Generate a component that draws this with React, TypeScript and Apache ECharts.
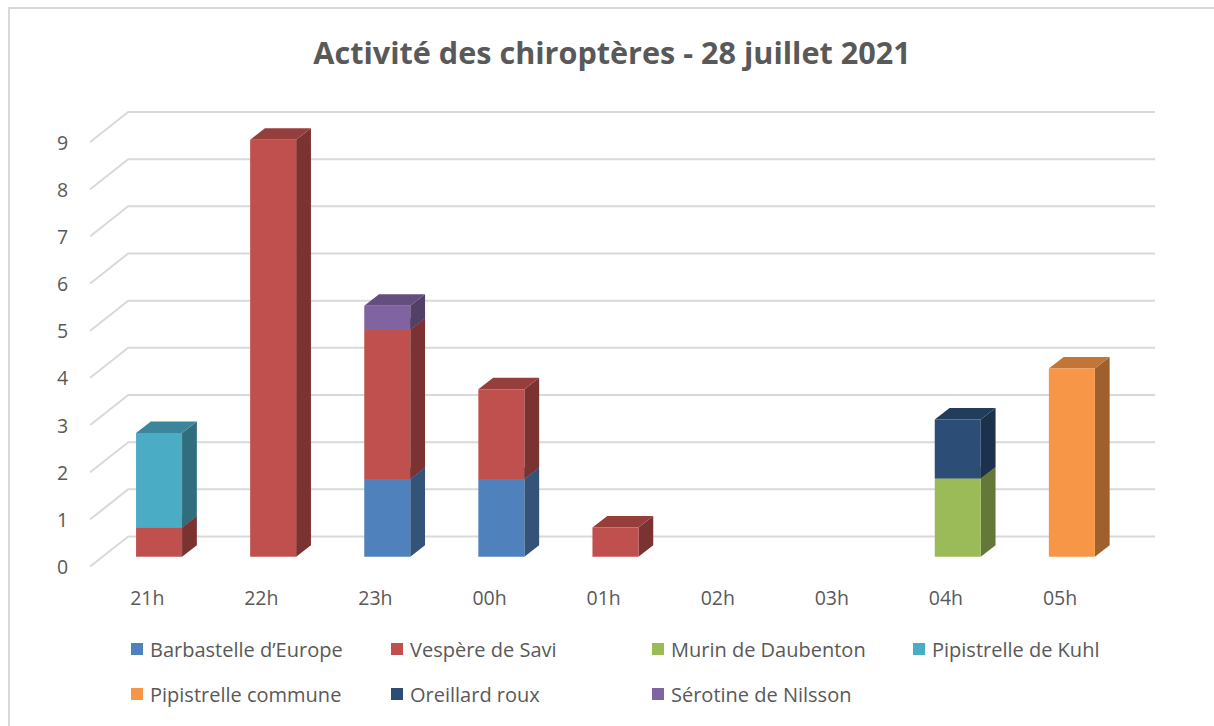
import React, { useEffect, useRef } from "react";
import * as echarts from "echarts";

const TITLE = "Activité des chiroptères - 28 juillet 2021";
const hours = ["21h", "22h", "23h", "00h", "01h", "02h", "03h", "04h", "05h"];
const yTicks = [0, 1, 2, 3, 4, 5, 6, 7, 8, 9];

const speciesNames = [
  "Barbastelle d’Europe",
  "Vespère de Savi",
  "Murin de Daubenton",
  "Pipistrelle de Kuhl",
  "Pipistrelle commune",
  "Oreillard roux",
  "Sérotine de Nilsson",
];
const speciesColors = ["#4F81BD", "#C0504D", "#9BBB59", "#4BACC6", "#F79646", "#2C4D75", "#8064A2"];

const barbastelle = [0, 0, 1.65, 1.65, 0, 0, 0, 0, 0];
const vespere = [0.62, 8.84, 3.16, 1.9, 0.62, 0, 0, 0, 0];
const murin = [0, 0, 0, 0, 0, 0, 0, 1.66, 0];
const kuhl = [2.0, 0, 0, 0, 0, 0, 0, 0, 0];
const commune = [0, 0, 0, 0, 0, 0, 0, 0, 3.99];
const oreillard = [0, 0, 0, 0, 0, 0, 0, 1.25, 0];
const serotine = [0, 0, 0.51, 0, 0, 0, 0, 0, 0];

const seriesValues = [barbastelle, vespere, murin, kuhl, commune, oreillard, serotine];

const FONT = "'Open Sans', 'Noto Sans', sans-serif";
const TEXT_COLOR = "#595959";

function shade(hex: string, f: number) {
  const n = parseInt(hex.slice(1), 16);
  const r = Math.round(((n >> 16) & 255) * f);
  const g = Math.round(((n >> 8) & 255) * f);
  const b = Math.round((n & 255) * f);
  return `rgb(${r},${g},${b})`;
}

export default function App() {
  const ref = useRef<HTMLDivElement>(null);
  useEffect(() => {
    document.body.style.margin = "0";
    const chart = echarts.init(ref.current!, null, { renderer: "svg" });

    // depth geometry (pixels)
    const WALL_DX = 38, WALL_DY = 30; // floor front -> back wall
    const FRONT_DY = 9.8; // bar front face offset from floor front
    const BAR_OFF = -11.2, BAR_W = 46, SIDE_DX = 14.8, SIDE_DY = 11.5;

    const cum = hours.map(() => 0);
    const barSeries = speciesNames.map((name, s) => {
      const data: number[][] = [];
      seriesValues[s].forEach((v, i) => {
        if (v > 0) {
          data.push([i, cum[i], cum[i] + v]);
          cum[i] += v;
        }
      });
      const front = speciesColors[s];
      const top = shade(front, 0.78);
      const side = shade(front, 0.64);
      return {
        type: "custom",
        name,
        itemStyle: { color: front },
        data,
        encode: { x: 0, y: [1, 2] },
        renderItem: (params: any, api: any) => {
          const idx = api.value(0);
          const c = api.coord([idx, 0]);
          const yb = api.coord([idx, api.value(1)])[1] - FRONT_DY;
          const yt = api.coord([idx, api.value(2)])[1] - FRONT_DY;
          const x0 = c[0] + BAR_OFF;
          const x1 = x0 + BAR_W;
          return {
            type: "group",
            children: [
              {
                type: "polygon",
                shape: { points: [[x1, yt], [x1 + SIDE_DX, yt - SIDE_DY], [x1 + SIDE_DX, yb - SIDE_DY], [x1, yb]] },
                style: { fill: side },
              },
              {
                type: "polygon",
                shape: { points: [[x0, yt], [x0 + SIDE_DX, yt - SIDE_DY], [x1 + SIDE_DX, yt - SIDE_DY], [x1, yt]] },
                style: { fill: top },
              },
              {
                type: "rect",
                shape: { x: x0, y: yt, width: BAR_W, height: yb - yt },
                style: { fill: front },
              },
            ],
          };
        },
      };
    });

    const gridSeries = {
      type: "custom",
      name: "grid",
      silent: true,
      data: yTicks.map((v) => [0, v]),
      encode: { x: 0, y: 1 },
      renderItem: (params: any, api: any) => {
        const cs = params.coordSys;
        const y = api.coord([0, api.value(1)])[1];
        return {
          type: "polyline",
          shape: { points: [[cs.x, y], [cs.x + WALL_DX, y - WALL_DY], [cs.x + cs.width + WALL_DX, y - WALL_DY]] },
          style: { stroke: "#d9d9d9", lineWidth: 2, fill: null },
        };
      },
    };

    const legendX = [131, 391, 652, 913];
    const legendY = [639, 684];
    const legends = speciesNames.map((name, i) => ({
      data: [name],
      left: legendX[i % 4],
      top: legendY[Math.floor(i / 4)],
      icon: "rect",
      itemWidth: 12,
      itemHeight: 12,
      padding: 0,
      selectedMode: false,
      textStyle: { fontSize: 20, color: TEXT_COLOR, fontFamily: FONT, padding: [0, 0, 0, 2] },
    }));

    chart.setOption({
      animation: false,
      backgroundColor: "#ffffff",
      graphic: [
        {
          type: "rect",
          shape: { x: 9, y: 8, width: 1300, height: 800 },
          style: { fill: "none", stroke: "#d9d9d9", lineWidth: 2 },
          silent: true,
        },
        {
          type: "text",
          x: 612,
          y: 52,
          style: {
            text: TITLE,
            align: "center",
            verticalAlign: "middle",
            fontSize: 30.6,
            fontWeight: "bold",
            fontFamily: FONT,
            fill: TEXT_COLOR,
          },
        },
      ],
      legend: legends,
      grid: { left: 90.2, right: 96.9, top: 142, bottom: 159.5, containLabel: false },
      xAxis: {
        type: "category",
        data: hours,
        axisLine: { show: false },
        axisTick: { show: false },
        splitLine: { show: false },
        axisLabel: { fontSize: 19.5, color: TEXT_COLOR, fontFamily: FONT, margin: 21 },
      },
      yAxis: {
        type: "value",
        min: 0,
        max: 9,
        interval: 1,
        axisLine: { show: false },
        axisTick: { show: false },
        splitLine: { show: false },
        axisLabel: { fontSize: 19.5, color: TEXT_COLOR, fontFamily: FONT, margin: 22 },
      },
      series: [gridSeries, ...barSeries],
    });
    return () => chart.dispose();
  }, []);
  return <div ref={ref} style={{ width: 1214, height: 726 }} />;
}
